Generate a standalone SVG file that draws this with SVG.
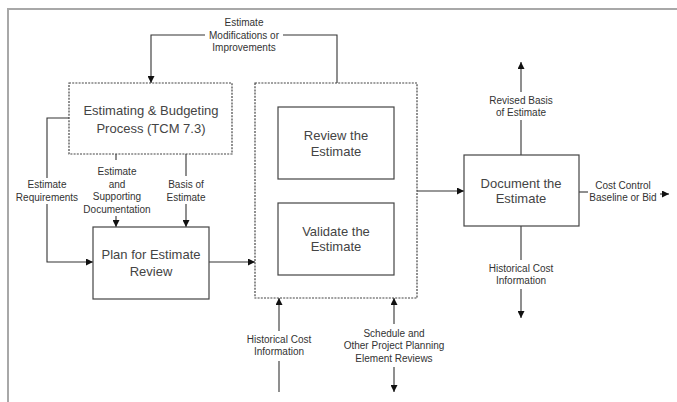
<svg xmlns="http://www.w3.org/2000/svg" width="677" height="402" viewBox="0 0 677 402">
<defs>
<style>
.frame{stroke:#a8a8a8;stroke-width:2;fill:none}
.box{fill:#fff;stroke:#444;stroke-width:1.2}
.dbox{fill:#fff;stroke:#444;stroke-width:1.2;stroke-dasharray:2 1.2}
.ln{stroke:#333;stroke-width:1.1;fill:none}
.bt{font-family:"Liberation Sans",Arial,sans-serif;font-size:13px;fill:#444;text-anchor:middle}
.lt{font-family:"Liberation Sans",Arial,sans-serif;font-size:10px;fill:#333;text-anchor:middle}
</style>
<marker id="ah" viewBox="0 0 10 10" refX="10" refY="5" markerWidth="7" markerHeight="7" markerUnits="userSpaceOnUse" orient="auto">
<path d="M0,0 L10,5 L0,10 z" fill="#111"/>
</marker>
</defs>
<rect width="677" height="402" fill="#fff"/>
<path class="frame" d="M8,402 V9 H677"/>

<g id="connectors">
<path class="ln" d="M337,83 V35 H283"/>
<path class="ln" d="M205,35 H151 V83" marker-end="url(#ah)"/>
<path class="ln" d="M69,118 H47 V178"/>
<path class="ln" d="M47,204 V262 H93" marker-end="url(#ah)"/>
<path class="ln" d="M116,154 V160"/>
<path class="ln" d="M116,216 V227" marker-end="url(#ah)"/>
<path class="ln" d="M186,154 V176"/>
<path class="ln" d="M186,204 V227" marker-end="url(#ah)"/>
<path class="ln" d="M209,262 H255" marker-end="url(#ah)"/>
<path class="ln" d="M417,191 H464" marker-end="url(#ah)"/>
<path class="ln" d="M521,155 V120"/>
<path class="ln" d="M521,92 V62" marker-end="url(#ah)"/>
<path class="ln" d="M521,226 V260"/>
<path class="ln" d="M521,289 V318" marker-end="url(#ah)"/>
<path class="ln" d="M579,192 H588"/>
<path class="ln" d="M660,194 H669" marker-end="url(#ah)"/>
<path class="ln" d="M279,392 V361"/>
<path class="ln" d="M279,331 V298" marker-end="url(#ah)"/>
<path class="ln" d="M394,324 V298" marker-end="url(#ah)"/>
<path class="ln" d="M394,367 V392" marker-end="url(#ah)"/>
</g>

<g id="label-modifications">
<text class="lt" x="244" y="26">Estimate</text>
<text class="lt" x="244" y="38.5">Modifications or</text>
<text class="lt" x="244" y="51">Improvements</text>
</g>
<g id="label-requirements">
<text class="lt" x="47" y="188">Estimate</text>
<text class="lt" x="47" y="200.5">Requirements</text>
</g>
<g id="label-supporting">
<text class="lt" x="117" y="175">Estimate</text>
<text class="lt" x="117" y="187.5">and</text>
<text class="lt" x="117" y="200">Supporting</text>
<text class="lt" x="117" y="212.5">Documentation</text>
</g>
<g id="label-basis">
<text class="lt" x="186" y="188">Basis of</text>
<text class="lt" x="186" y="200.5">Estimate</text>
</g>
<g id="label-revised">
<text class="lt" x="521" y="103.5">Revised Basis</text>
<text class="lt" x="521" y="116">of Estimate</text>
</g>
<g id="label-hist-right">
<text class="lt" x="521" y="271.5">Historical Cost</text>
<text class="lt" x="521" y="284">Information</text>
</g>
<g id="label-costcontrol">
<text class="lt" x="623" y="188.5">Cost Control</text>
<text class="lt" x="623" y="201">Baseline or Bid</text>
</g>
<g id="label-hist-mid">
<text class="lt" x="279" y="342.5">Historical Cost</text>
<text class="lt" x="279" y="355">Information</text>
</g>
<g id="label-schedule">
<text class="lt" x="394" y="336.5">Schedule and</text>
<text class="lt" x="394" y="349">Other Project Planning</text>
<text class="lt" x="394" y="361.5">Element Reviews</text>
</g>

<g id="node-estimating">
<rect class="dbox" x="69" y="83" width="163" height="71"/>
<text class="bt" x="151" y="114.5">Estimating &amp; Budgeting</text>
<text class="bt" x="151" y="132.5">Process (TCM 7.3)</text>
</g>
<g id="node-plan">
<rect class="box" x="93" y="227" width="116" height="72"/>
<text class="bt" x="151" y="258.5">Plan for Estimate</text>
<text class="bt" x="151" y="275.5">Review</text>
</g>
<g id="node-review-group">
<rect class="dbox" x="255" y="83" width="162" height="215"/>
</g>
<g id="node-review">
<rect class="box" x="278" y="107" width="116" height="72"/>
<text class="bt" x="336" y="139.5">Review the</text>
<text class="bt" x="336" y="155.5">Estimate</text>
</g>
<g id="node-validate">
<rect class="box" x="278" y="203" width="116" height="72"/>
<text class="bt" x="336" y="235.5">Validate the</text>
<text class="bt" x="336" y="251">Estimate</text>
</g>
<g id="node-document">
<rect class="box" x="464" y="155" width="115" height="71"/>
<text class="bt" x="521" y="187.5">Document the</text>
<text class="bt" x="521" y="203">Estimate</text>
</g>
</svg>
